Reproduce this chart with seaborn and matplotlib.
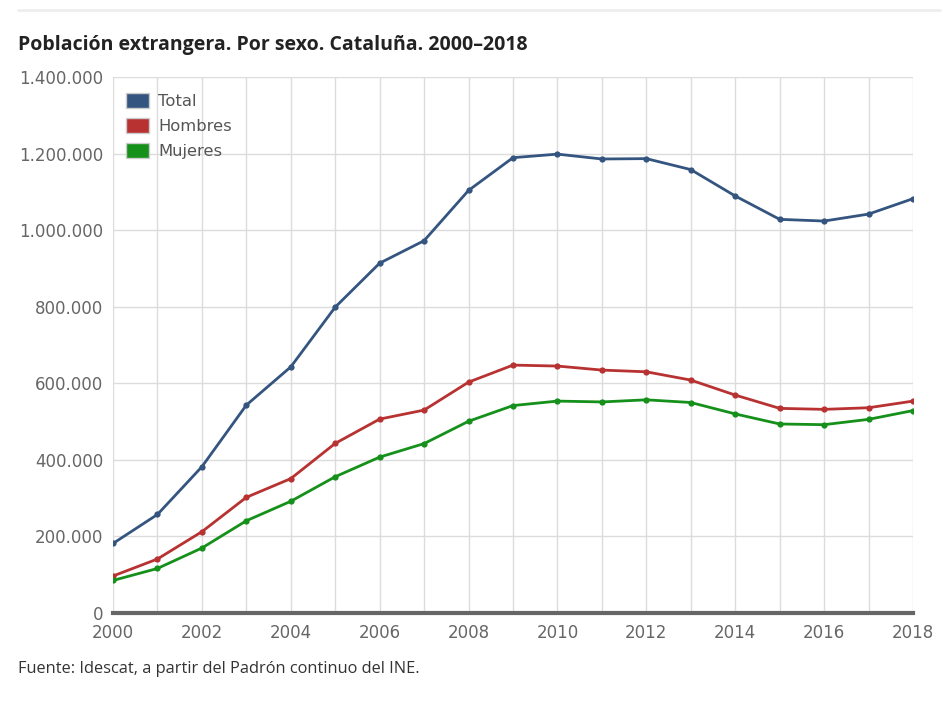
import matplotlib
matplotlib.use("Agg")
import matplotlib.pyplot as plt
import matplotlib.ticker as mticker
from matplotlib.patches import Patch
import seaborn as sns
import pandas as pd

years = list(range(2000, 2019))
total = [181590, 257320, 382020, 543008, 642846, 798904, 913757, 972507, 1103790,
         1189279, 1198538, 1185852, 1186779, 1158161, 1089214, 1028211, 1023766,
         1041931, 1082176]
hombres = [96600, 141000, 212300, 302100, 351000, 443000, 506500, 530000, 603000,
           647500, 645000, 634500, 630000, 608400, 569200, 534500, 531900, 536100, 553500]
mujeres = [85000, 116300, 169700, 240900, 291800, 355900, 407200, 442500, 500800,
           541800, 553500, 551300, 556800, 549800, 520000, 493700, 491900, 505800, 528700]
series_names = ["Total", "Hombres", "Mujeres"]
colors = {"Total": "#34557f", "Hombres": "#b83232", "Mujeres": "#15901a"}
title = "Población extrangera. Por sexo. Cataluña. 2000–2018"
source = "Fuente: Idescat, a partir del Padrón continuo del INE."

df = pd.concat([
    pd.DataFrame({"year": years, "value": vals, "serie": name})
    for name, vals in zip(series_names, [total, hombres, mujeres])
])

sns.set_theme(style="white")
plt.rcParams["font.family"] = ["DejaVu Sans"]

fig = plt.figure(figsize=(9.52, 7.04), dpi=100)
ax = fig.add_axes([113 / 952, 1 - 613 / 704, 800 / 952, 536 / 704])

sns.lineplot(data=df, x="year", y="value", hue="serie", hue_order=series_names,
             palette=colors, marker="o", markersize=4.5, markeredgewidth=0,
             linewidth=2.0, ax=ax, legend=False)

ax.set_xlim(2000, 2018)
ax.set_ylim(0, 1400000)
ax.xaxis.set_major_locator(mticker.MultipleLocator(2))
ax.xaxis.set_minor_locator(mticker.MultipleLocator(1))
ax.yaxis.set_major_locator(mticker.MultipleLocator(200000))
ax.yaxis.set_major_formatter(mticker.FuncFormatter(lambda v, p: f"{int(v):,}".replace(",", ".")))
ax.grid(True, which="both", axis="x", color="#dcdcdc", linewidth=1)
ax.grid(True, which="major", axis="y", color="#dcdcdc", linewidth=1)
ax.set_axisbelow(True)
for s in ["top", "right", "left"]:
    ax.spines[s].set_visible(False)
ax.spines["bottom"].set_color("#666666")
ax.spines["bottom"].set_linewidth(3)
ax.tick_params(axis="both", which="both", length=0, labelsize=12, colors="#666666")
ax.tick_params(axis="y", pad=7)
ax.tick_params(axis="x", pad=8)
ax.set_xlabel("")
ax.set_ylabel("")

handles = [Patch(facecolor=colors[n], edgecolor="#cccccc", linewidth=1, label=n) for n in series_names]
leg = ax.legend(handles=handles, loc="upper left", bbox_to_anchor=(-0.002, 0.998),
                frameon=False, prop={"family": "DejaVu Sans", "size": 11.8}, labelcolor="#555555",
                handlelength=1.4, handleheight=1.05, handletextpad=0.55, labelspacing=0.55)

fig.text(18 / 952, 1 - 50 / 704, title, fontsize=14, fontweight="bold", color="#222222",
         family="Open Sans", ha="left", va="baseline")
fig.text(18 / 952, 1 - 673 / 704, source, fontsize=11.8, color="#333333",
         family="Open Sans", ha="left", va="baseline")
fig.add_artist(plt.Line2D([18 / 952, 940 / 952], [1 - 10 / 704, 1 - 10 / 704],
                          color="#eeeeee", linewidth=2))

fig.savefig("out.png", dpi=100, facecolor="white")
